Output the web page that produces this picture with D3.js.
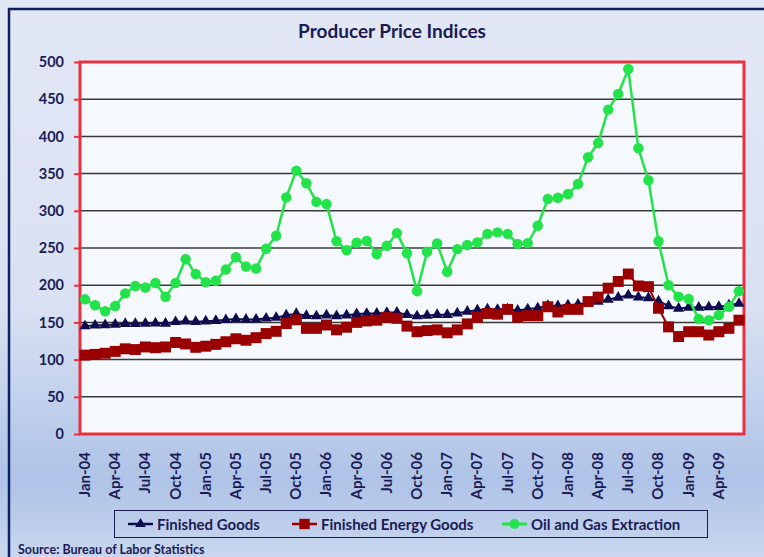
<!DOCTYPE html>
<html>
<head>
<meta charset="utf-8">
<script src="https://cdn.jsdelivr.net/npm/d3@7"></script>
<style>
  body{margin:0;padding:0;overflow:hidden;}
  svg{display:block;font-family:Lato,"Open Sans",sans-serif;}
</style>
</head>
<body>
<svg id="graph"></svg>
<script>
var width = 764, height = 557;

var monthNames = ["Jan","Feb","Mar","Apr","May","Jun","Jul","Aug","Sep","Oct","Nov","Dec"];
var years = ["04","05","06","07","08","09"];
var months = [];
years.forEach(function(y){
    monthNames.forEach(function(m){ months.push(m + "-" + y); });
});
months = months.slice(0, 66);   // Jan-04 .. Jun-09

var yTicks = [0,50,100,150,200,250,300,350,400,450,500];

var finishedGoods = [
  145.0,146.0,146.6,147.3,148.2,148.1,148.5,148.8,148.5,150.7,151.5,150.8,
  151.6,152.3,153.4,154.5,154.0,154.1,155.4,156.4,159.6,161.7,158.9,158.4,
  159.7,158.6,159.6,161.4,161.8,162.0,162.9,163.3,160.3,158.4,159.2,160.4,
  160.2,162.4,164.6,166.5,167.6,167.2,167.9,165.9,167.9,169.2,172.6,172.0,
  173.2,174.2,176.6,178.0,180.9,183.6,186.5,183.8,182.9,178.4,172.1,168.8,
  170.1,170.1,170.5,171.0,173.0,175.3
];
var finishedEnergy = [
  106,107,108.5,111,114.5,113.5,117,116,117,123,121,116.5,
  118,120.5,124,128,126,129.5,135,138,148.5,153.5,142,142,
  146.5,140,143.5,150,152,153,157,155.5,145,137.5,139,140,
  136,140,148,157,162,161,167.5,157,159,159,171,164,
  167.5,167.5,178,184,196,205,215,199,198,169,144,131,
  137.5,137.5,133,137.5,142,153
];
var oilGas = [
  181,173,165,172,189,199,197,203,184.5,203,235,215,
  204,206,221,237.5,225,222.5,249,266.5,318,354,337,312,
  309,259,247,257,259.5,242,253,270,243,192,245,256,
  218,248.5,254,257.5,269,271,269,255.5,256.5,280,316,317.5,
  322.5,336,372,391,436,457,490.5,384,341,259,200,184.5,
  181.5,154.5,153,160,171,192
];

var series = [
  {name:"Finished Goods", values:finishedGoods, color:"#0c0c4f", symbol:d3.symbolTriangle, size:54, width:2},
  {name:"Finished Energy Goods", values:finishedEnergy, color:"#9b0000", symbol:d3.symbolSquare, size:120, width:2},
  {name:"Oil and Gas Extraction", values:oilGas, color:"#22e349", symbol:d3.symbolCircle, size:86, width:2.5}
];

function drawChart(){
    var navy = "#1b1b55";
    var svg = d3.select("#graph")
            .attr("width", width)
            .attr("height", height);

    var defs = svg.append("defs");
    var grad = defs.append("linearGradient")
            .attr("id","bg")
            .attr("x1",0).attr("y1",0).attr("x2",0).attr("y2",1);
    grad.append("stop").attr("offset","0%").attr("stop-color","#e2e7f4");
    grad.append("stop").attr("offset","55%").attr("stop-color","#d9e1f2");
    grad.append("stop").attr("offset","86%").attr("stop-color","#aec3e7");
    grad.append("stop").attr("offset","100%").attr("stop-color","#c9d6ee");

    svg.append("rect")
       .attr("width",width).attr("height",height)
       .attr("fill","url(#bg)");
    // outer chart border (only left/top are inside the picture)
    svg.append("rect")
       .attr("x",9).attr("y",9)
       .attr("width",900).attr("height",700)
       .attr("fill","none")
       .attr("stroke","#0d2260")
       .attr("stroke-width",2.5);

    var pl = 80, pr = 744, pt = 62, pb = 434;

    var x = d3.scaleBand()
            .domain(months)
            .range([pl,pr]);
    var y = d3.scaleLinear()
            .domain([0,500])
            .range([pb,pt]);
    var cx = function(d,i){ return x(months[i]) + x.bandwidth()/2; };

    svg.append("rect")
       .attr("x",pl).attr("y",pt)
       .attr("width",pr-pl).attr("height",pb-pt)
       .attr("fill","#f5f8fc");

    svg.append("g")
       .selectAll("line")
       .data(yTicks.filter(function(t){ return t>0 && t<500; }))
       .join("line")
       .attr("x1",pl).attr("x2",pr)
       .attr("y1",d=>y(d)).attr("y2",d=>y(d))
       .attr("stroke","#3a3a3a")
       .attr("stroke-width",1.5);

    // y axis: red ticks + bold labels
    var yAxis = svg.append("g")
       .attr("transform","translate(" + pl + ",0)")
       .call(d3.axisLeft(y).tickValues(yTicks).tickSize(6).tickPadding(10));
    yAxis.select(".domain").remove();
    yAxis.selectAll(".tick line").attr("stroke","#e8303e").attr("stroke-width",2);
    yAxis.selectAll(".tick text")
         .attr("fill",navy)
         .attr("font-family","Lato, sans-serif")
         .attr("font-size","14.5px")
         .attr("font-weight","bold");

    svg.append("rect")
       .attr("x",pl).attr("y",pt)
       .attr("width",pr-pl).attr("height",pb-pt)
       .attr("fill","none")
       .attr("stroke","#e8303e")
       .attr("stroke-width",3);

    // x labels every quarter, rotated
    svg.append("g")
       .selectAll("text")
       .data(months.filter(function(m,i){ return i%3==0; }))
       .join("text")
       .attr("transform",d=>"translate(" + (x(d)+x.bandwidth()/2+5) + ",452) rotate(-90)")
       .attr("text-anchor","end")
       .attr("fill",navy)
       .attr("font-size","15px")
       .attr("font-weight","bold")
       .text(d=>d);

    var line = d3.line()
            .x(cx)
            .y(d=>y(d));

    series.forEach(function(s){
        var g = svg.append("g");
        g.append("path")
         .datum(s.values)
         .attr("fill","none")
         .attr("stroke",s.color)
         .attr("stroke-width",s.width)
         .attr("d",line);
        g.selectAll("path.mark")
         .data(s.values)
         .join("path")
         .attr("class","mark")
         .attr("transform",(d,i)=>"translate(" + cx(d,i) + "," + y(d) + ")")
         .attr("d",d3.symbol().type(s.symbol).size(s.size))
         .attr("fill",s.color);
    });

    svg.append("text")
       .attr("x",392).attr("y",38)
       .attr("text-anchor","middle")
       .attr("fill",navy)
       .attr("font-size","19px")
       .attr("font-weight","bold")
       .text("Producer Price Indices");

    // legend
    var legend = svg.append("g");
    legend.append("rect")
       .attr("x",114.5).attr("y",510.5)
       .attr("width",593).attr("height",27)
       .attr("fill","none")
       .attr("stroke",navy)
       .attr("stroke-width",1);
    var legX = [128, 292, 502];
    series.forEach(function(s,i){
        var lg = legend.append("g").attr("transform","translate(" + legX[i] + ",524)");
        lg.append("line")
          .attr("x1",0).attr("x2",25)
          .attr("stroke",s.color).attr("stroke-width",s.width+0.5);
        lg.append("path")
          .attr("transform","translate(12.5,0)")
          .attr("d",d3.symbol().type(s.symbol).size(s.size*0.9))
          .attr("fill",s.color);
        lg.append("text")
          .attr("x",29).attr("y",5.5)
          .attr("fill",navy)
          .attr("font-size","15px")
          .attr("font-weight","bold")
          .text(s.name);
    });

    svg.append("text")
       .attr("x",18).attr("y",554)
       .attr("fill",navy)
       .attr("font-size","12.5px")
       .attr("font-weight","bold")
       .text("Source: Bureau of Labor Statistics");
}

drawChart();
</script>
</body>
</html>
